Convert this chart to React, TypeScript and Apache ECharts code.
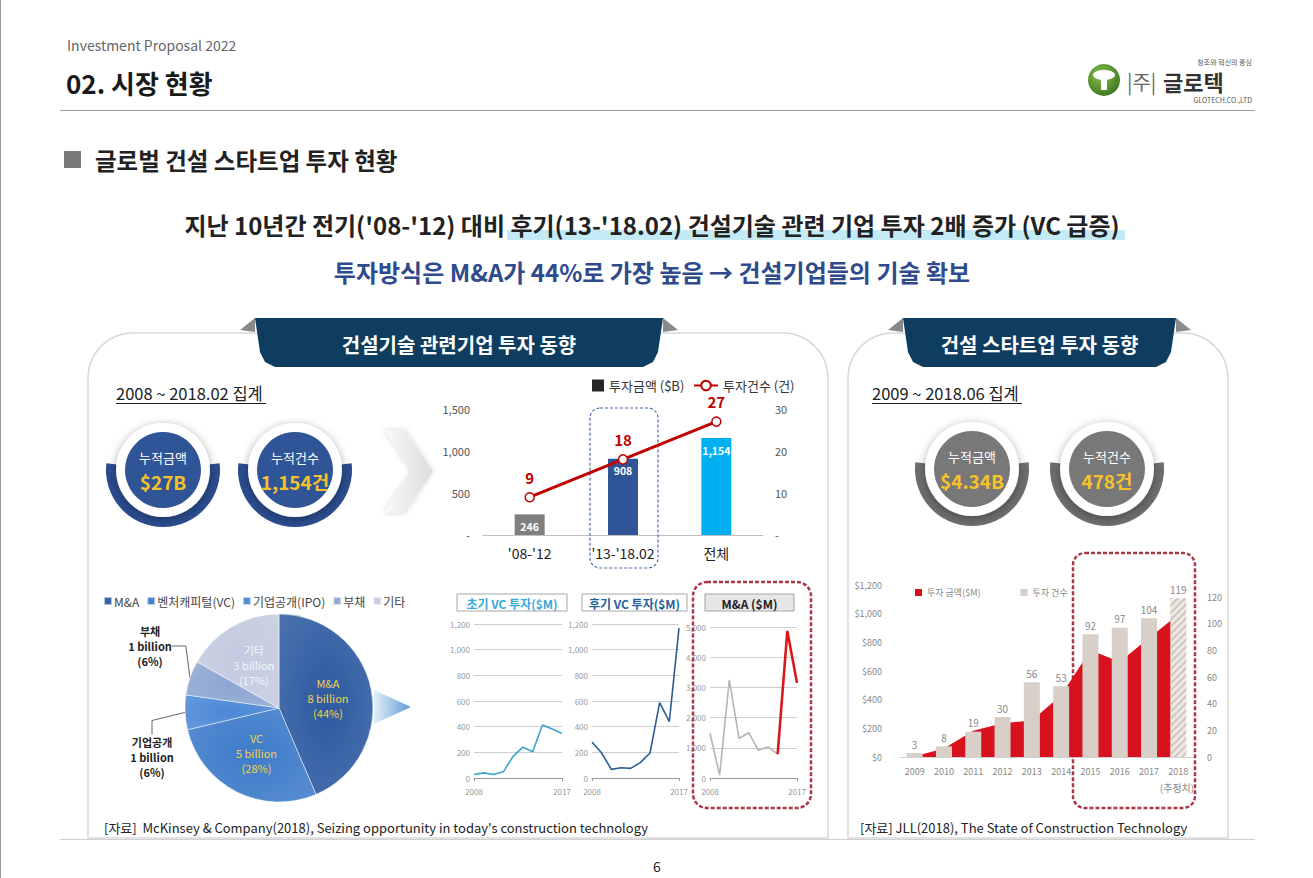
import React, { useEffect, useRef } from "react";
import * as echarts from "echarts";

const FONT = '"Noto Sans CJK KR", "Noto Sans", sans-serif';

// ---- main bar/line chart ----
const periodLabels = ["'08-'12", "'13-'18.02", "전체"];
const investAmounts = [246, 908, 1154];
const investCounts = [9, 18, 27];
const periodColors = ["#7f7f7f", "#2f5597", "#00b0f0"];

// ---- pie ----
const pieLegendNames = ["M&A", "벤처캐피털(VC)", "기업공개(IPO)", "부채", "기타"];
const pieShortNames = ["M&A", "VC", "기업공개", "부채", "기타"];
const pieBillions = [8, 5, 1, 1, 3];
const piePercents = [44, 28, 6, 6, 17];
const pieColors = ["#2c5aa0", "#3d7bca", "#4b88d6", "#8ea6d2", "#c3cbe0"];

// ---- small line charts ----
const vcYears = ["2008", "2009", "2010", "2011", "2012", "2013", "2014", "2015", "2016", "2017"];
const earlyVC = [27, 40, 27, 48, 168, 240, 205, 413, 381, 347];
const lateVC = [280, 195, 67, 80, 75, 120, 195, 587, 440, 1168];
const maDeals = [1480, 90, 3250, 1310, 1500, 920, 1030, 790, 4870, 3150];
const maHighlightFrom = 7;

// ---- startup chart ----
const startupYears = ["2009", "2010", "2011", "2012", "2013", "2014", "2015", "2016", "2017", "2018"];
const startupAmounts = [5, 60, 183, 235, 255, 430, 745, 665, 830, 995];
const startupCounts = [3, 8, 19, 30, 56, 53, 92, 97, 104, 119];

const comma = (v: number) => String(v).replace(/\B(?=(\d{3})+(?!\d))/g, ",");

const txt = (
  x: number, y: number, text: string, size: number, color: string,
  weight: any = "normal", align: string = "left", extra: any = {}
) => ({
  type: "text", x, y, z: 20,
  style: { text, fontSize: size, fontWeight: weight, fontFamily: FONT, fill: color, align, verticalAlign: "middle", ...extra },
});

const badge = (cx: number, cy: number, ring: string, inner: string, label: string, value: string) => [
  { type: "sector", z: 5, shape: { cx, cy, r0: 0, r: 57, startAngle: -0.12, endAngle: Math.PI + 0.12 }, style: { fill: ring } },
  { type: "circle", z: 6, shape: { cx, cy, r: 47 }, style: { fill: "#fff", shadowBlur: 10, shadowColor: "rgba(0,0,0,0.35)", shadowOffsetY: 2 } },
  { type: "circle", z: 7, shape: { cx, cy, r: 38 }, style: { fill: inner } },
  txt(cx, cy - 13, label, 13, "#fff", "normal", "center"),
  txt(cx, cy + 11, value, 19, "#f6c22b", "bold", "center"),
];

const banner = (l: number, r: number, text: string) => [
  { type: "polygon", z: 4, shape: { points: [[l - 15, 330], [l, 318], [l, 332]] }, style: { fill: "#8a8a8a" } },
  { type: "polygon", z: 4, shape: { points: [[r + 15, 330], [r, 318], [r, 332]] }, style: { fill: "#8a8a8a" } },
  {
    type: "polygon", z: 5,
    shape: { points: [[l, 318], [r, 318], [r - 5, 352], [r - 10, 362], [r - 20, 367], [l + 20, 367], [l + 10, 362], [l + 5, 352]] },
    style: { fill: "#0f3d5f" },
  },
  txt((l + r) / 2, 344, text, 20, "#fff", "bold", "center"),
];

const smallTitle = (x: number, w: number, text: string, color: string, fill: string) => [
  { type: "rect", z: 5, shape: { x, y: 594, width: w, height: 17 }, style: { fill, stroke: "#a6a6a6", lineWidth: 1 } },
  txt(x + w / 2, 603, text, 12, color, "bold", "center"),
];

export default function App() {
  const ref = useRef<HTMLDivElement>(null);
  useEffect(() => {
    if (!ref.current) return;
    const chart = echarts.init(ref.current, undefined, { renderer: "svg" });

    const smallAxisLabel = { fontSize: 8, color: "#999", fontFamily: FONT };
    const smallX = (gi: number) => ({
      type: "category", gridIndex: gi, data: vcYears, boundaryGap: false,
      axisLine: { lineStyle: { color: "#999" } },
      axisTick: { show: true, length: 3, lineStyle: { color: "#999" } },
      axisLabel: { ...smallAxisLabel, margin: 9, interval: (i: number) => i === 0 || i === vcYears.length - 1 },
    });
    const smallY = (gi: number, max: number, interval: number) => ({
      type: "value", gridIndex: gi, min: 0, max, interval,
      axisLine: { show: false }, axisTick: { show: false },
      splitLine: { lineStyle: { color: "#cfcfcf" } },
      axisLabel: { ...smallAxisLabel, margin: 4, formatter: (v: number) => comma(v) },
    });

    const graphic: any[] = [
      // page left edge
      { type: "line", shape: { x1: 0.5, y1: 0, x2: 0.5, y2: 878 }, style: { stroke: "#9a9a9a", lineWidth: 1 } },
      // header
      txt(67, 45, "Investment Proposal 2022", 14, "#666"),
      txt(66, 82, "02. 시장 현황", 26, "#1a1a1a", "bold"),
      { type: "line", shape: { x1: 60, y1: 110.5, x2: 1255, y2: 110.5 }, style: { stroke: "#9e9e9e", lineWidth: 1 } },
      // logo
      { type: "circle", shape: { cx: 1104, cy: 80, r: 16 }, style: { fill: new echarts.graphic.RadialGradient(0.4, 0.35, 0.8, [{ offset: 0, color: "#8cc04a" }, { offset: 1, color: "#2f6a1e" }]) } },
      { type: "ellipse", shape: { cx: 1104, cy: 75, rx: 11, ry: 5 }, style: { fill: "#fff" } },
      { type: "rect", shape: { x: 1101, y: 75, width: 6, height: 15 }, style: { fill: "#fff" } },
      txt(1127, 81, "|주|", 20, "#666", "normal"),
      txt(1163, 81, "글로텍", 22, "#333", "bold", "left"),
      txt(1252, 62, "창조와 혁신의 중심", 7, "#555", "normal", "right"),
      txt(1252, 100, "GLOTECH.CO.,LTD", 7, "#555", "normal", "right"),
      // section title
      { type: "rect", shape: { x: 64, y: 151, width: 17, height: 17 }, style: { fill: "#7a7a7a" } },
      txt(95, 160, "글로벌 건설 스타트업 투자 현황", 23.5, "#222", "bold"),
      // headline
      { type: "rect", shape: { x: 507, y: 230, width: 618, height: 10 }, style: { fill: "#c4eaf6" } },
      txt(652, 224, "지난 10년간 전기('08-'12) 대비 후기(13-'18.02) 건설기술 관련 기업 투자 2배 증가 (VC 급증)", 24, "#222", "bold", "center"),
      txt(652, 271, "투자방식은 M&A가 44%로 가장 높음 → 건설기업들의 기술 확보", 24, "#2f4b8c", "bold", "center"),
      // panels
      { type: "rect", z: 1, shape: { x: 88, y: 333, width: 740, height: 505, r: [45, 45, 0, 0] }, style: { fill: "none", stroke: "#d9d9d9", lineWidth: 1.5 } },
      { type: "rect", z: 1, shape: { x: 848, y: 333, width: 380, height: 505, r: [45, 45, 0, 0] }, style: { fill: "none", stroke: "#d9d9d9", lineWidth: 1.5 } },
      { type: "line", shape: { x1: 60, y1: 839.5, x2: 1255, y2: 839.5 }, style: { stroke: "#d0d0d0", lineWidth: 1 } },
      ...banner(255, 663, "건설기술 관련기업 투자 동향"),
      ...banner(903, 1176, "건설 스타트업 투자 동향"),
      // period captions
      txt(116, 393, "2008 ~ 2018.02 집계", 16.5, "#222"),
      { type: "line", shape: { x1: 116, y1: 403.5, x2: 266, y2: 403.5 }, style: { stroke: "#222", lineWidth: 1 } },
      txt(872, 393, "2009 ~ 2018.06 집계", 16.5, "#222"),
      { type: "line", shape: { x1: 872, y1: 403.5, x2: 1022, y2: 403.5 }, style: { stroke: "#222", lineWidth: 1 } },
      // badges
      ...badge(163, 470, "#2b4c8f", "#2f5597", "누적금액", "$27B"),
      ...badge(295, 470, "#2b4c8f", "#2f5597", "누적건수", "1,154건"),
      ...badge(972, 469, "#6e6e6e", "#787878", "누적금액", "$4.34B"),
      ...badge(1107, 469, "#6e6e6e", "#787878", "누적건수", "478건"),
      // chevron
      {
        type: "polygon", z: 3,
        shape: { points: [[384, 430], [405, 430], [433, 471], [405, 513], [384, 513], [411, 471]] },
        style: { fill: new echarts.graphic.LinearGradient(0, 0, 1, 0, [{ offset: 0, color: "#fafafa" }, { offset: 1, color: "#dcdcdc" }]), shadowBlur: 5, shadowColor: "rgba(0,0,0,0.18)" },
      },
      // dashed highlight around middle bar
      { type: "rect", z: 1, shape: { x: 590, y: 408, width: 68, height: 160, r: 10 }, style: { fill: "none", stroke: "#4a6aa8", lineWidth: 1.2, lineDash: [3, 2] } },
      // pie arrow
      {
        type: "polygon", z: 3, shape: { points: [[374, 690], [411, 707], [374, 724]] },
        style: { fill: new echarts.graphic.LinearGradient(0, 0, 1, 0, [{ offset: 0, color: "#e3eef8" }, { offset: 1, color: "#5b9bd5" }]) },
      },
      // small chart titles
      ...smallTitle(457, 110, "초기 VC 투자($M)", "#37a9d9", "#fff"),
      ...smallTitle(582, 105, "후기 VC 투자($M)", "#1f5fa0", "#fff"),
      ...smallTitle(705, 89, "M&A ($M)", "#222", "#e6e6e6"),
      { type: "rect", z: 1, shape: { x: 693, y: 582, width: 118, height: 226, r: 14 }, style: { fill: "none", stroke: "#a83a48", lineWidth: 2.5, lineDash: [4, 2] } },
      // startup chart extras
      { type: "rect", z: 1, shape: { x: 1073, y: 553, width: 122, height: 255, r: 12 }, style: { fill: "none", stroke: "#a83a48", lineWidth: 2.5, lineDash: [4, 2] } },
      txt(1177, 787, "(추정치)", 10, "#888", "normal", "center"),
      // sources
      txt(104, 827, "[자료]  McKinsey & Company(2018), Seizing opportunity in today's construction technology", 13, "#222"),
      txt(860, 827, "[자료] JLL(2018), The State of Construction Technology", 13, "#222"),
      txt(657, 866, "6", 14, "#222", "normal", "center"),
    ];

    const option: any = {
      animation: false,
      backgroundColor: "#fff",
      textStyle: { fontFamily: FONT },
      graphic,
      legend: [
        {
          left: 587, top: 374, itemWidth: 12, itemHeight: 12, icon: "rect",
          textStyle: { fontSize: 13, color: "#333", fontFamily: FONT },
          data: ["투자금액 ($B)"],
        },
        {
          left: 688, top: 374, itemWidth: 24, itemHeight: 12,
          textStyle: { fontSize: 13, color: "#333", fontFamily: FONT },
          data: ["투자건수 (건)"],
        },
        {
          left: 98, top: 590, itemWidth: 8, itemHeight: 8, itemGap: 7, icon: "rect",
          textStyle: { fontSize: 12, color: "#444", fontFamily: FONT, padding: [0, 0, 0, -3] },
          data: pieLegendNames,
        },
        {
          left: 910, top: 583, itemWidth: 7, itemHeight: 7, itemGap: 40, icon: "rect",
          textStyle: { fontSize: 9, color: "#888", fontFamily: FONT },
          data: ["투자 금액($M)", "투자 건수"],
        },
      ],
      grid: [
        { left: 483, top: 409, width: 280, height: 126 },
        { left: 474, top: 624, width: 88, height: 154 },
        { left: 592, top: 624, width: 87, height: 154 },
        { left: 710, top: 627, width: 87, height: 151 },
        { left: 900, top: 585, width: 293, height: 172 },
      ],
      xAxis: [
        {
          type: "category", gridIndex: 0, data: periodLabels,
          axisLine: { lineStyle: { color: "#bfbfbf" } }, axisTick: { show: false },
          axisLabel: { fontSize: 14, color: "#222", margin: 11, fontFamily: FONT },
        },
        smallX(1), smallX(2), smallX(3),
        {
          type: "category", gridIndex: 4, data: startupYears,
          axisLine: { lineStyle: { color: "#d0d0d0" } }, axisTick: { show: false },
          axisLabel: { fontSize: 9, color: "#888", margin: 10, fontFamily: FONT },
        },
      ],
      yAxis: [
        {
          type: "value", gridIndex: 0, min: 0, max: 1500, interval: 500,
          splitLine: { show: false }, axisLine: { show: false }, axisTick: { show: false },
          axisLabel: { fontSize: 11, color: "#555", margin: 13, formatter: (v: number) => (v === 0 ? "-" : comma(v)) },
        },
        {
          type: "value", gridIndex: 0, min: 0, max: 30, interval: 10, position: "right",
          splitLine: { show: false }, axisLine: { show: false }, axisTick: { show: false },
          axisLabel: { fontSize: 11, color: "#555", margin: 12, formatter: (v: number) => (v === 0 ? "-" : String(v)) },
        },
        smallY(1, 1200, 200), smallY(2, 1200, 200), smallY(3, 5000, 1000),
        {
          type: "value", gridIndex: 4, min: 0, max: 1200, interval: 200,
          splitLine: { show: false }, axisLine: { show: false }, axisTick: { show: false },
          axisLabel: { fontSize: 9, color: "#888", margin: 18, formatter: (v: number) => "$" + comma(v) },
        },
        {
          type: "value", gridIndex: 4, min: 0, max: 129, interval: 20, position: "right",
          splitLine: { show: false }, axisLine: { show: false }, axisTick: { show: false },
          axisLabel: { fontSize: 9, color: "#888", margin: 14, formatter: (v: number) => (v % 20 === 0 ? String(v) : "") },
        },
      ],
      series: [
        {
          type: "bar", name: "투자금액 ($B)", xAxisIndex: 0, yAxisIndex: 0, barWidth: 30,
          itemStyle: { color: "#262626" },
          data: investAmounts.map((v, i) => ({ value: v, itemStyle: { color: periodColors[i] } })),
          label: {
            show: true, position: "insideTop", distance: 7, color: "#fff", fontSize: 10.5, fontWeight: "bold",
            formatter: (p: any) => comma(p.value),
          },
          z: 3,
        },
        {
          type: "line", name: "투자건수 (건)", xAxisIndex: 0, yAxisIndex: 1, data: investCounts,
          symbol: "circle", symbolSize: 9,
          lineStyle: { color: "#c00000", width: 3 },
          itemStyle: { color: "#fff", borderColor: "#c00000", borderWidth: 1.5 },
          label: { show: true, position: "top", distance: 7, color: "#c00000", fontSize: 15, fontWeight: "bold" },
          z: 4,
        },
        {
          type: "pie", name: "투자방식", center: [279, 708], radius: 94, startAngle: 90,
          itemStyle: { borderColor: "rgba(255,255,255,0.6)", borderWidth: 0.8 },
          label: {
            show: true, position: "inside", fontSize: 11, lineHeight: 15, fontFamily: FONT,
            formatter: (p: any) => `${pieShortNames[p.dataIndex]}\n${pieBillions[p.dataIndex]} billion\n(${piePercents[p.dataIndex]}%)`,
          },
          labelLayout: (params: any) => {
            if (params.dataIndex === 3) return { x: 150, y: 646, align: "center", verticalAlign: "middle" };
            if (params.dataIndex === 2) return { x: 152, y: 757, align: "center", verticalAlign: "middle" };
            return {};
          },
          data: pieLegendNames.map((n, i) => {
            const outside = i === 2 || i === 3;
            return {
              name: n, value: piePercents[i],
              itemStyle: {
                color: new echarts.graphic.RadialGradient(0.5, 0.5, 0.7, [
                  { offset: 0, color: pieColors[i] },
                  { offset: 1, color: echarts.color.lift(pieColors[i], 0.15) },
                ]),
              },
              label: outside
                ? { position: "outside", color: "#222", fontWeight: "bold", fontSize: 11 }
                : { color: i === 4 ? "#f5f5fb" : "#f2d24a" },
              labelLine: outside ? { show: true, length: 12, length2: 14, lineStyle: { color: "#666", width: 1 } } : { show: false },
            };
          }),
        },
        {
          type: "line", name: "초기 VC", xAxisIndex: 1, yAxisIndex: 2, data: earlyVC,
          symbol: "none", lineStyle: { color: "#3ba3cf", width: 1.6 },
        },
        {
          type: "line", name: "후기 VC", xAxisIndex: 2, yAxisIndex: 3, data: lateVC,
          symbol: "none", lineStyle: { color: "#2b5d91", width: 1.6 },
        },
        {
          type: "line", name: "M&A 이전", xAxisIndex: 3, yAxisIndex: 4,
          data: maDeals.map((v, i) => (i <= maHighlightFrom ? v : null)),
          symbol: "none", lineStyle: { color: "#b5b5b5", width: 1.6 },
        },
        {
          type: "line", name: "M&A 최근", xAxisIndex: 3, yAxisIndex: 4,
          data: maDeals.map((v, i) => (i >= maHighlightFrom ? v : null)),
          symbol: "none", lineStyle: { color: "#d7191c", width: 2.6 },
        },
        {
          type: "line", name: "투자 금액($M)", xAxisIndex: 4, yAxisIndex: 5, data: startupAmounts,
          symbol: "none", itemStyle: { color: "#d7111e" },
          lineStyle: { width: 0, color: "#d7111e" }, areaStyle: { color: "#d7111e", opacity: 1 }, z: 2,
        },
        {
          type: "bar", name: "투자 건수", xAxisIndex: 4, yAxisIndex: 6, barWidth: 16,
          itemStyle: { color: "#d8d0c8" },
          data: startupCounts.map((v, i) =>
            i === startupCounts.length - 1
              ? { value: v, itemStyle: { color: "#efe9e3", decal: { symbol: "rect", dashArrayX: [1, 0], dashArrayY: [2, 3], rotation: -Math.PI / 4, color: "#cfc6bd" } } }
              : v
          ),
          label: { show: true, position: "top", distance: 4, color: "#888", fontSize: 10 },
          z: 3,
        },
      ],
    };
    chart.setOption(option);
    return () => chart.dispose();
  }, []);
  return <div ref={ref} style={{ position: "absolute", left: 0, top: 0, width: 1313, height: 878, background: "#fff" }} />;
}
